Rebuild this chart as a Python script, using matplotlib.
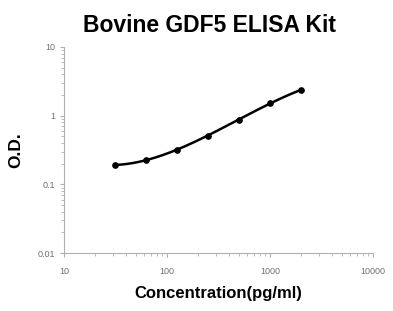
import matplotlib
matplotlib.use("Agg")
import matplotlib.pyplot as plt
import numpy as np

plt.rcParams["font.family"] = ["Liberation Sans", "DejaVu Sans"]

# Standard curve points
conc = [31.25, 62.5, 125, 250, 500, 1000, 2000]
od = [0.19, 0.23, 0.32, 0.51, 0.87, 1.55, 2.35]

fig = plt.figure(figsize=(3.93, 3.11), dpi=100)
ax = fig.add_axes([0.163, 0.186, 0.786, 0.663])

# smooth fit in log-log space
lx = np.log10(conc)
ly = np.log10(od)
coef = np.polyfit(lx, ly, 3)
xs = np.linspace(lx[0], lx[-1], 200)
ax.plot(10 ** xs, 10 ** np.polyval(coef, xs), color="black", lw=1.8)
ax.plot(conc, od, "o", color="black", ms=3.8)

ax.set_xscale("log")
ax.set_yscale("log")
ax.set_xlim(10, 10000)
ax.set_ylim(0.01, 10)
ax.set_xticks([10, 100, 1000, 10000])
ax.set_xticklabels(["10", "100", "1000", "10000"])
ax.set_yticks([0.01, 0.1, 1, 10])
ax.set_yticklabels(["0.01", "0.1", "1", "10"])

for s in ["top", "right"]:
    ax.spines[s].set_visible(False)
for s in ["left", "bottom"]:
    ax.spines[s].set_color("#b0b0b0")
    ax.spines[s].set_linewidth(0.8)
ax.tick_params(which="both", colors="#b0b0b0", labelcolor="#707070", labelsize=6.5)
ax.tick_params(which="major", length=3, width=0.8)
ax.tick_params(which="minor", length=2, width=0.6)
ax.tick_params(axis="x", pad=7)

ax.set_title("Bovine GDF5 ELISA Kit", fontsize=16.5, fontweight="bold", pad=11, x=0.472)
ax.set_xlabel("Concentration(pg/ml)", fontsize=12, fontweight="bold", labelpad=7)
ax.set_ylabel("O.D.", fontsize=12.5, fontweight="bold", labelpad=10)

fig.savefig("out.png", dpi=100, facecolor="white")
